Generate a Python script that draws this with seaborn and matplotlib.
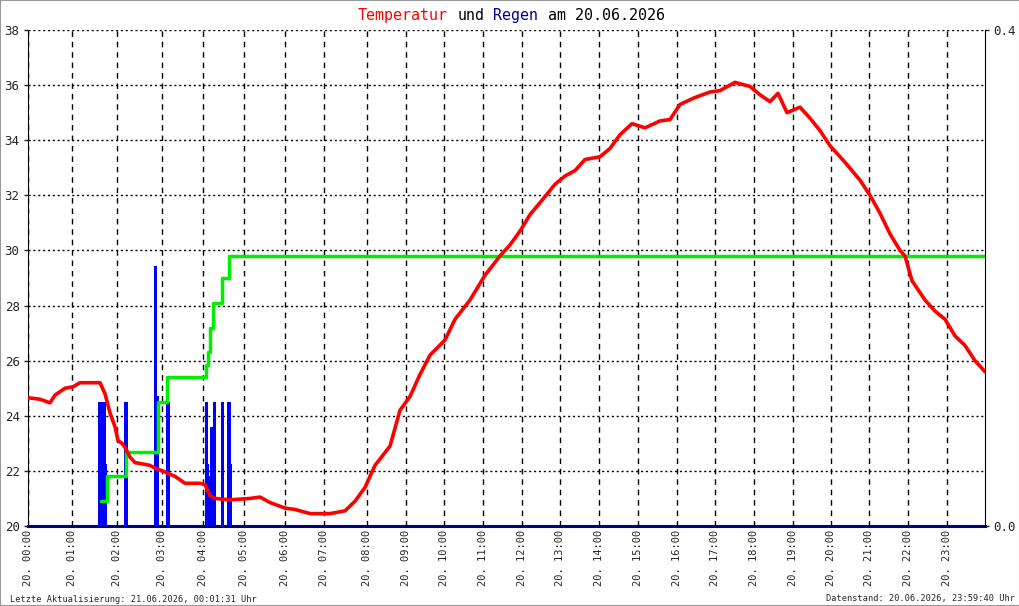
import matplotlib
matplotlib.use("Agg")
import matplotlib.pyplot as plt
import seaborn as sns
import pandas as pd
from matplotlib.patches import Rectangle

sns.set_style("white")
plt.rcParams['font.family'] = ['DejaVu Sans Mono']

# x positions are sample indices (the logger's x axis is not linear in time)
hour_pos = [0, 44, 89, 134, 175, 216, 257, 296, 339, 378, 416, 455,
            494, 532, 571, 610, 649, 687, 726, 765, 803, 841, 880, 919]
hour_labels = ["20. %02d:00" % h for h in range(24)]
x_end = 957

temp_x = [1, 12, 22, 27, 37, 45, 52, 60, 69, 72, 77, 82, 87, 90, 94, 97,
          102, 107, 112, 122, 127, 137, 147, 157, 172, 177, 182, 187, 202,
          222, 232, 242, 257, 267, 282, 302, 317, 327, 337, 347, 362, 372,
          382, 392, 402, 417, 427, 442, 457, 472, 482, 492, 502, 517, 527,
          537, 547, 557, 572, 582, 592, 604, 617, 632, 642, 652, 667, 682,
          692, 707, 722, 732, 742, 750, 759, 772, 782, 792, 802, 817, 832,
          842, 852, 862, 872, 877, 884, 897, 907, 917, 927, 937, 947, 957]
temp_v = [24.65, 24.6, 24.47, 24.75, 25.0, 25.05, 25.2, 25.2, 25.2, 25.2,
          24.8, 24.1, 23.6, 23.1, 23.0, 22.85, 22.5, 22.3, 22.27, 22.2,
          22.1, 21.96, 21.8, 21.55, 21.55, 21.5, 21.1, 21.0, 20.95, 21.0,
          21.05, 20.85, 20.65, 20.6, 20.45, 20.45, 20.55, 20.9, 21.4, 22.2,
          22.9, 24.2, 24.7, 25.5, 26.2, 26.75, 27.5, 28.2, 29.1, 29.8, 30.2,
          30.7, 31.3, 31.95, 32.4, 32.7, 32.9, 33.3, 33.4, 33.7, 34.2, 34.6,
          34.45, 34.7, 34.75, 35.3, 35.55, 35.75, 35.8, 36.1, 35.95, 35.65,
          35.4, 35.7, 35.0, 35.2, 34.8, 34.35, 33.8, 33.2, 32.55, 32.0,
          31.35, 30.6, 30.0, 29.8, 28.9, 28.2, 27.8, 27.5, 26.9, 26.55,
          26.0, 25.6]

rain_x = [72, 76, 77.5, 98, 127.5, 129, 140, 178.5, 179.5, 181.5, 183.5,
          186.5, 194.5, 201, 202]
rain_v = [0.1, 0.1, 0.05, 0.1, 0.21, 0.105, 0.1, 0.1, 0.05, 0.04, 0.08,
          0.1, 0.1, 0.1, 0.05]

cum_x = [73, 79, 98, 130, 139, 178, 180, 182, 185, 194, 201, 957]
cum_v = [0.02, 0.04, 0.06, 0.10, 0.12, 0.13, 0.14, 0.16, 0.18, 0.20,
         0.218, 0.218]

title_parts = [("Temperatur", "#ff0000"), ("und", "k"), ("Regen", "#000099"),
               ("am 20.06.2026", "k")]

temp = pd.DataFrame({"x": temp_x, "t": temp_v})
cum = pd.DataFrame({"x": cum_x, "r": cum_v})

fig = plt.figure(figsize=(10.2, 6.06), dpi=100)
ax = fig.add_axes([28 / 1020, 1 - 526 / 606, 957 / 1020, 496 / 606])
ax2 = ax.twinx()
ax3 = ax.twinx()

# rain bars + cumulative rain
ax2.bar(rain_x, rain_v, width=3.6, color="#0000ff", linewidth=0)
sns.lineplot(data=cum, x="x", y="r", ax=ax2, color="#00ee00", lw=2.5,
             drawstyle="steps-post")
# temperature on top
sns.lineplot(data=temp, x="x", y="t", ax=ax3, color="#ff0000", lw=2.6)

for a in (ax, ax2, ax3):
    a.set_xlim(0, x_end)
    a.set_xlabel("")
    a.set_ylabel("")
ax.set_ylim(20, 38)
ax3.set_ylim(20, 38)
ax2.set_ylim(0, 0.4)
ax3.set_axis_off()

ax.set_xticks(hour_pos)
ax.set_xticklabels(hour_labels)
ax.set_yticks(range(20, 39, 2))
ax2.set_yticks([0, 0.4])
ax2.set_yticklabels(["0.0", "0.4"])

ax.xaxis.grid(True, color="k", ls=(0, (4, 3.5)), lw=1)
ax.yaxis.grid(True, color="k", ls=(0, (1.5, 2)), lw=1)
ax.tick_params(axis="x", length=0, pad=3, labelsize=7.5, labelrotation=90)
ax.tick_params(axis="y", length=3, width=1, pad=3, labelsize=9, left=True)
ax2.tick_params(axis="y", length=3, width=1, pad=3, labelsize=9, right=True)

ax.spines["top"].set_visible(False)
ax.spines["right"].set_visible(False)
ax.spines["left"].set_color("k")
ax.spines["bottom"].set_color("#000080")
ax.spines["bottom"].set_linewidth(2.2)
for s in ("top", "left", "bottom"):
    ax2.spines[s].set_visible(False)
ax2.spines["right"].set_color("k")

# title in several colours, monospace so each char has the same advance
fs = 10.8
char_w = 0.602 * fs * 100 / 72 / 1020
tx, ty = 358 / 1020, 1 - 20 / 606
pos = 0
for word, col in title_parts:
    fig.text(tx + pos * char_w, ty, word, color=col, fontsize=fs,
             va="baseline", ha="left")
    pos += len(word) + 1

fig.text(10 / 1020, 1 - 599 / 606,
         "Letzte Aktualisierung: 21.06.2026, 00:01:31 Uhr",
         fontsize=6.2, va="center", ha="left")
fig.text(1015 / 1020, 1 - 599 / 606,
         "Datenstand: 20.06.2026, 23:59:40 Uhr",
         fontsize=6.2, va="center", ha="right")

fig.patches.append(Rectangle((0, 0), 1, 1, transform=fig.transFigure,
                             fill=False, edgecolor="#999999", lw=1.5))

fig.savefig("out.png", dpi=100)
